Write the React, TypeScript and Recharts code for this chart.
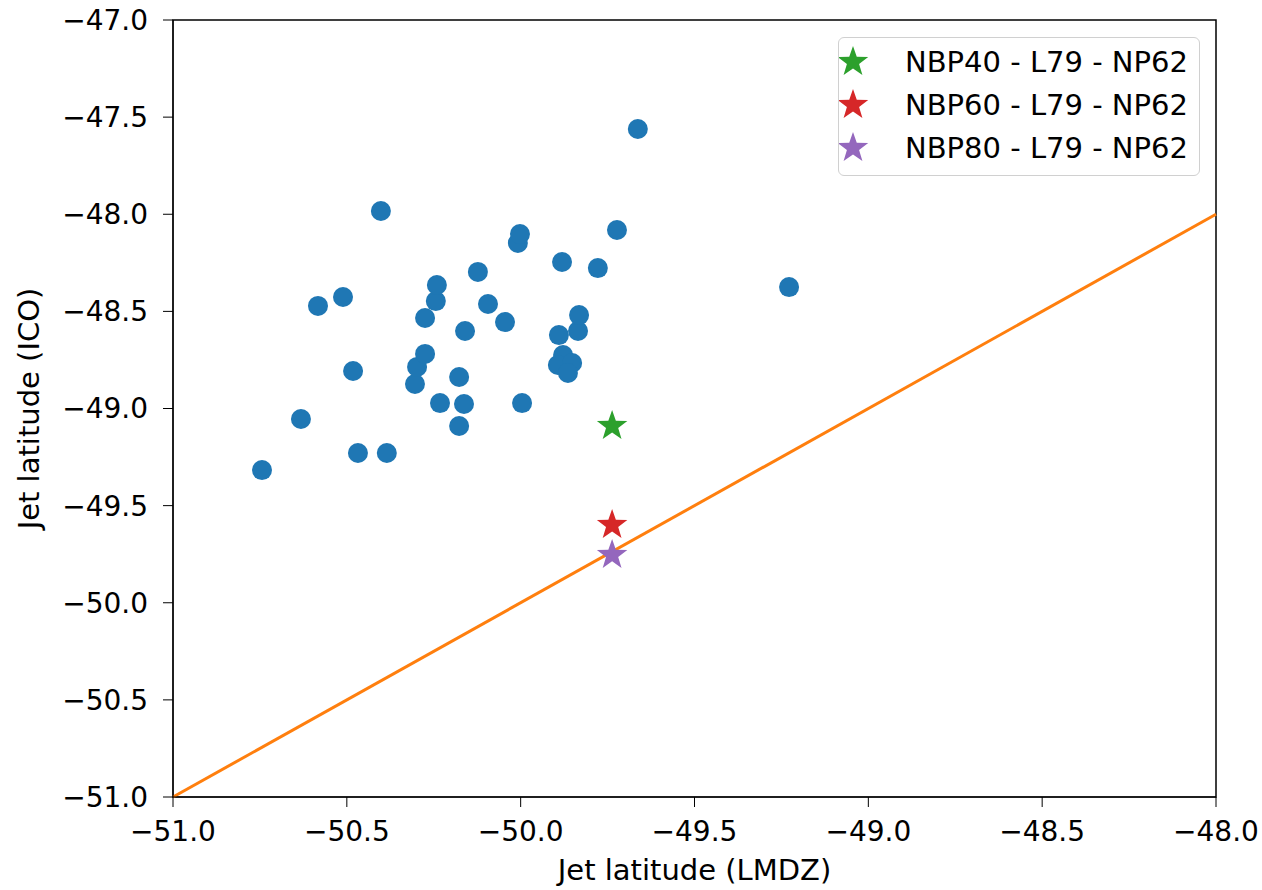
import { ReferenceArea, ReferenceLine, Scatter, ScatterChart, XAxis, YAxis } from 'recharts';

const lmdzLat = [
  -50.744, -50.632, -50.583, -50.511, -50.402, -50.482, -50.468, -50.385, -50.304, -50.298,
  -50.275, -50.275, -50.244, -50.241, -50.232, -50.177, -50.177, -50.163, -50.16, -50.123,
  -50.094, -50.045, -50.008, -50.002, -49.996, -49.881, -49.89, -49.878, -49.893, -49.852,
  -49.864, -49.835, -49.832, -49.778, -49.723, -49.663, -49.228,
];
const icoLat = [
  -49.317, -49.054, -48.472, -48.426, -47.983, -48.807, -49.229, -49.229, -48.874, -48.786,
  -48.719, -48.534, -48.447, -48.364, -48.972, -48.838, -49.09, -48.977, -48.601, -48.297,
  -48.462, -48.555, -48.148, -48.102, -48.972, -48.246, -48.622, -48.725, -48.776, -48.766,
  -48.817, -48.601, -48.519, -48.277, -48.081, -47.561, -48.375,
];

const runNames = ['NBP40 - L79 - NP62', 'NBP60 - L79 - NP62', 'NBP80 - L79 - NP62'];
const runLmdz = [-49.737, -49.737, -49.737];
const runIco = [-49.09, -49.6, -49.754];
const runColors = ['#2ca02c', '#d62728', '#9467bd'];

const xTicks = [-51, -50.5, -50, -49.5, -49, -48.5, -48];
const yTicks = [-51, -50.5, -50, -49.5, -49, -48.5, -48, -47.5, -47];
const oneToOne = [-51, -48];

const FONT = '"DejaVu Sans", sans-serif';

const cloud = lmdzLat.map((x, i) => ({ x, y: icoLat[i] }));

const fmt = (v: number) => (v < 0 ? '\u2212' : '') + Math.abs(v).toFixed(1);

// matplotlib-ish '*' marker
const starPath = (cx: number, cy: number, R: number) => {
  const r = R * 0.4;
  let d = '';
  for (let k = 0; k < 10; k++) {
    const rad = k % 2 === 0 ? R : r;
    const a = -Math.PI / 2 + (k * Math.PI) / 5;
    d += `${k === 0 ? 'M' : 'L'}${cx + rad * Math.cos(a)},${cy + rad * Math.sin(a)}`;
  }
  return d + 'Z';
};

const Dot = (props: any) => <circle cx={props.cx} cy={props.cy} r={10} fill="#1f77b4" />;

const makeStar = (color: string) => (props: any) =>
  <path d={starPath(props.cx, props.cy, 16)} fill={color} />;

const tickStyle = { fontSize: 28, fill: '#000', fontFamily: FONT };

const App = () => {
  return (
    <div style={{ position: 'absolute', left: 0, top: 0, width: 1262, height: 890, background: '#fff' }}>
      <ScatterChart width={1262} height={890} margin={{ top: 20, right: 46, left: 0, bottom: 0 }}>
        <XAxis
          type="number"
          dataKey="x"
          domain={[-51, -48]}
          ticks={xTicks}
          tickFormatter={fmt}
          allowDataOverflow
          height={93}
          tickSize={10}
          tickMargin={14}
          stroke="#000"
          tick={tickStyle}
          label={(p: any) => (
            <text
              x={p.viewBox.x + p.viewBox.width / 2}
              y={p.viewBox.y + 83}
              textAnchor="middle"
              fontSize={29}
              fontFamily={FONT}
              fill="#000"
            >
              Jet latitude (LMDZ)
            </text>
          )}
        />
        <YAxis
          type="number"
          dataKey="y"
          domain={[-51, -47]}
          ticks={yTicks}
          tickFormatter={fmt}
          allowDataOverflow
          width={173}
          tickSize={10}
          tickMargin={15}
          stroke="#000"
          tick={tickStyle}
          label={(p: any) => {
            const cx = 39;
            const cy = p.viewBox.y + p.viewBox.height / 2;
            return (
              <text
                x={cx}
                y={cy}
                transform={`rotate(-90 ${cx} ${cy})`}
                textAnchor="middle"
                fontSize={29}
                fontFamily={FONT}
                fill="#000"
              >
                Jet latitude (ICO)
              </text>
            );
          }}
        />
        <ReferenceArea x1={-51} x2={-48} y1={-51} y2={-47} fill="none" stroke="#000" strokeWidth={1.5} />
        <Scatter data={cloud} shape={Dot} isAnimationActive={false} />
        <ReferenceLine
          segment={[
            { x: oneToOne[0], y: oneToOne[0] },
            { x: oneToOne[1], y: oneToOne[1] },
          ]}
          stroke="#ff7f0e"
          strokeWidth={3}
        />
        {runNames.map((name, i) => (
          <Scatter
            key={name}
            name={name}
            data={[{ x: runLmdz[i], y: runIco[i] }]}
            shape={makeStar(runColors[i])}
            isAnimationActive={false}
          />
        ))}
      </ScatterChart>
      <div
        style={{
          position: 'absolute',
          left: 838,
          top: 37,
          width: 360,
          height: 137,
          border: '1.5px solid #d0d0d0',
          borderRadius: 6,
          background: 'rgba(255,255,255,0.8)',
          fontFamily: FONT,
          fontSize: 29,
          color: '#000',
        }}
      >
        {runNames.map((name, i) => (
          <div key={name} style={{ position: 'absolute', left: 0, top: 2 + i * 43, height: 43, display: 'flex', alignItems: 'center' }}>
            <svg width={60} height={36}>
              <path d={starPath(14, 18, 16)} fill={runColors[i]} />
            </svg>
            <span style={{ marginLeft: 6, whiteSpace: 'nowrap' }}>{name}</span>
          </div>
        ))}
      </div>
    </div>
  );
};

export default App;
